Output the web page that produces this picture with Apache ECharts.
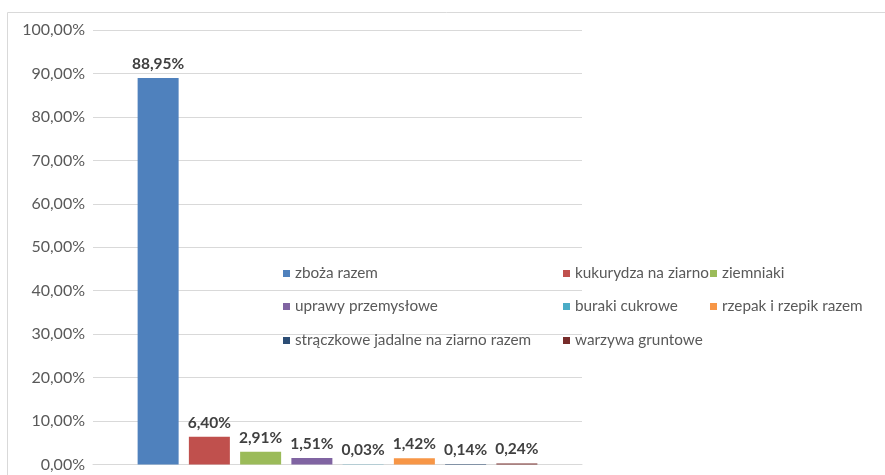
<!DOCTYPE html>
<html><head><meta charset="utf-8">
<script src="https://cdn.jsdelivr.net/npm/echarts@6/dist/echarts.min.js"></script>
<style>html,body{margin:0;padding:0;background:#fff}#c{width:885px;height:475px}</style>
</head><body><div id="c"></div>
<script>
const seriesNames = ['zboża razem','kukurydza na ziarno','ziemniaki','uprawy przemysłowe','buraki cukrowe','rzepak i rzepik razem','strączkowe jadalne na ziarno razem','warzywa gruntowe'];
const seriesValues = [88.95, 6.40, 2.91, 1.51, 0.03, 1.42, 0.14, 0.24];
const seriesColors = ['#4F81BD','#C0504D','#9BBB59','#8064A2','#4BACC6','#F79646','#2C4D75','#772C2A'];
const categories = [''];
const yTicks = [0,10,20,30,40,50,60,70,80,90,100];

const FONT = 'Lato';
const fmt = v => v.toFixed(2).replace('.', ',') + '%';

const legendPos = [[283,266],[563,266],[710,266],[283,299],[563,299],[710,299],[283,333],[563,333]];

const chart = echarts.init(document.getElementById('c'));
chart.setOption({
  animation:false,
  textStyle:{fontFamily:FONT},
  graphic:[{type:'rect',shape:{x:7.5,y:12.5,width:900,height:500},style:{fill:'none',stroke:'#D9D9D9',lineWidth:1},silent:true,z:-1}],
  grid:{left:93,right:303,top:30,bottom:10.5},
  legend: seriesNames.map((n,i)=>({
    data:[n], left:legendPos[i][0], top:legendPos[i][1], itemWidth:7, itemHeight:7, icon:'rect', itemGap:5,
    textStyle:{fontFamily:FONT,fontSize:15.3,color:'#595959'}, padding:0
  })),
  xAxis:{type:'category',data:categories,axisLine:{lineStyle:{color:'#D9D9D9'}},axisTick:{show:false},axisLabel:{show:false}},
  yAxis:{type:'value',min:0,max:100,interval:10,
    axisLabel:{formatter:v=>fmt(v),color:'#595959',fontSize:16,fontFamily:FONT,margin:8},
    axisLine:{show:false},axisTick:{show:false},
    splitLine:{lineStyle:{color:'#D9D9D9'}}},
  series: seriesNames.map((n,i)=>({
    name:n,type:'bar',data:[seriesValues[i]],barWidth:41,barGap:'25%',
    itemStyle:{color:seriesColors[i]},
    label:{show:true,position:'top',distance:6,formatter:p=>fmt(p.value),fontWeight:'bold',fontSize:15.5,color:'#404040',fontFamily:FONT}
  }))
});
</script></body></html>
